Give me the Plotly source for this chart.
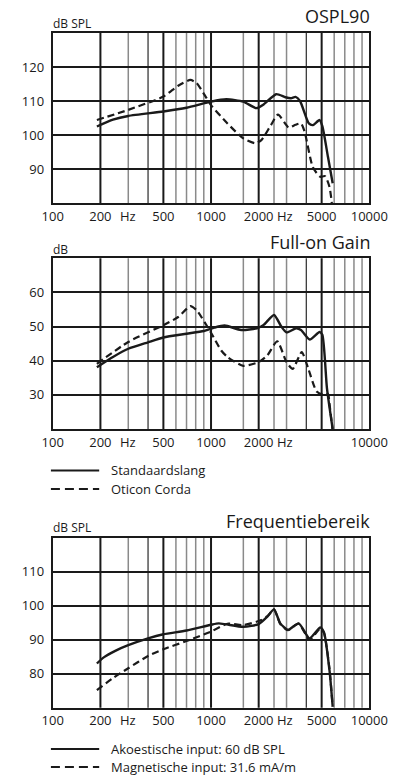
import math
import plotly.graph_objects as go

# ---------------- data ----------------
# OSPL90
f1_std = [190, 240, 300, 500, 700, 1000, 1250, 1600, 1930, 2150, 2580, 2950, 3200, 3420, 3650, 4150, 4400, 4850, 5050, 5480, 5870]
ospl_std = [102.5, 104.5, 105.6, 106.9, 108.0, 109.8, 110.5, 109.8, 107.9, 109.0, 112.0, 111.1, 110.8, 111.2, 110.0, 103.4, 102.9, 104.4, 102.6, 93.6, 85.8]
f1_cor = [190, 300, 500, 620, 740, 810, 910, 1000, 1270, 1600, 1900, 2080, 2390, 2650, 3100, 3420, 3700, 3900, 4400, 4900, 5250, 5600, 5800]
ospl_cor = [104.4, 107.4, 111.3, 114.5, 116.2, 115.3, 111.8, 108.8, 103.4, 99.0, 97.6, 98.5, 102.9, 106.0, 102.2, 103.0, 103.4, 101.0, 90.5, 87.7, 87.9, 84.8, 79.9]

# Full-on Gain
f2_std = [190, 240, 300, 400, 500, 700, 900, 1050, 1220, 1550, 1950, 2150, 2500, 2780, 3000, 3450, 3700, 4200, 4850, 5050, 5400, 5870]
gain_std = [38.1, 41.1, 43.5, 45.4, 46.8, 47.9, 48.7, 49.7, 50.3, 49.0, 49.5, 50.5, 53.4, 50.0, 48.3, 49.5, 49.0, 46.2, 48.4, 47.6, 32.0, 20.0]
f2_cor = [190, 300, 500, 620, 740, 810, 1000, 1160, 1270, 1600, 2000, 2270, 2620, 3000, 3280, 3740, 4120, 4650, 5170, 5480, 5600, 5850]
gain_cor = [39.1, 45.5, 50.4, 52.8, 56.0, 54.8, 48.2, 43.0, 41.1, 38.5, 39.6, 41.6, 45.7, 39.6, 37.6, 42.5, 37.6, 31.0, 30.0, 30.3, 27.5, 20.0]

# Frequentiebereik
f3_ac = [190, 210, 250, 300, 400, 500, 700, 1000, 1120, 1600, 2000, 2270, 2500, 2740, 3060, 3580, 4190, 4900, 5170, 5600, 5870]
freq_ac = [83.0, 84.8, 86.8, 88.4, 90.4, 91.6, 92.7, 94.4, 94.8, 93.8, 94.6, 96.8, 98.9, 94.8, 92.9, 94.8, 90.4, 93.6, 92.2, 81.1, 70.3]
f3_mag = [190, 240, 300, 400, 500, 700, 1000, 1270, 1600, 2080, 2300, 2500, 2740, 3060, 3580, 4190, 4900, 5170, 5600, 5870]
freq_mag = [75.2, 78.7, 81.6, 85.2, 87.2, 89.6, 92.4, 94.7, 94.3, 95.8, 97.2, 98.9, 94.6, 92.8, 94.7, 90.0, 93.3, 92.0, 81.5, 70.3]

# axes / ticks
x_tickvals_13 = [100, 200, 500, 1000, 2000, 5000, 10000]
x_ticktext_13 = ["100", "200", "500", "1000", "2000", "5000", "10000"]
x_tickvals_2 = [100, 200, 500, 1000, 2000, 10000]
x_ticktext_2 = ["100", "200", "500", "1000", "2000", "10000"]
y1_ticks = [90, 100, 110, 120]
y2_ticks = [30, 40, 50, 60]
y3_ticks = [80, 90, 100, 110]
y1_range = [80, 130]
y2_range = [20, 70]
y3_range = [70, 120]

grid_major = [200, 500, 1000, 2000, 5000]
grid_dark = [400, 4000]
grid_minor = [300, 600, 700, 800, 900, 1600, 2500, 3000, 6000, 7000, 8000, 9000]

titles = ["OSPL90", "Full-on Gain", "Frequentiebereik"]
units = ["dB SPL", "dB", "dB SPL"]
legend1 = ["Standaardslang", "Oticon Corda"]
legend2 = ["Akoestische input: 60 dB SPL", "Magnetische input: 31.6 mA/m"]

# ---------------- layout helpers ----------------
W, H = 418, 778
FONT = "Open Sans"
INK = "#1a1a1a"


def px(x):
    return x / W


def py(y):
    return 1 - y / H


x_dom = [px(45), px(386)]
y_doms = [[py(203), py(33)], [py(429), py(258.3)], [py(707.7), py(537.7)]]

fig = go.Figure()

series = [
    (f1_std, ospl_std, f1_cor, ospl_cor),
    (f2_std, gain_std, f2_cor, gain_cor),
    (f3_ac, freq_ac, f3_mag, freq_mag),
]
for i, (fa, ya, fb, yb) in enumerate(series):
    xa = "x" if i == 0 else f"x{i+1}"
    ya_ = "y" if i == 0 else f"y{i+1}"
    fig.add_trace(go.Scatter(x=fa, y=ya, mode="lines", xaxis=xa, yaxis=ya_,
                             line=dict(color=INK, width=2.4, shape="spline", smoothing=0.6),
                             showlegend=False, hoverinfo="skip"))
    fig.add_trace(go.Scatter(x=fb, y=yb, mode="lines", xaxis=xa, yaxis=ya_,
                             line=dict(color=INK, width=2.2, dash="7px,4px", shape="spline", smoothing=0.6),
                             showlegend=False, hoverinfo="skip"))

shapes = []
annotations = []
yranges = [y1_range, y2_range, y3_range]
yticks = [y1_ticks, y2_ticks, y3_ticks]
axis_bottom = [203, 429, 707.7]
for i in range(3):
    n = "" if i == 0 else str(i + 1)
    xt_v = x_tickvals_2 if i == 1 else x_tickvals_13
    xt_t = x_ticktext_2 if i == 1 else x_ticktext_13
    fig.update_layout(**{
        f"xaxis{n}": dict(domain=x_dom, type="log", range=[2, 4], anchor=f"y{n}",
                          tickvals=xt_v, ticktext=xt_t, showgrid=False, zeroline=False,
                          showline=True, mirror=True, linecolor=INK, linewidth=2,
                          ticks="", tickfont=dict(family=FONT, size=13, color=INK)),
        f"yaxis{n}": dict(domain=y_doms[i], range=yranges[i], anchor=f"x{n}",
                          tickvals=yticks[i], showgrid=True, gridcolor=INK, gridwidth=2,
                          zeroline=False, showline=True, mirror=True, linecolor=INK, linewidth=2,
                          ticks="", ticklabelstandoff=4,
                          tickfont=dict(family=FONT, size=13, color=INK)),
    })
    xr = "x" + n
    yr = "y" + n + " domain"
    for f in grid_minor:
        shapes.append(dict(type="line", xref=xr, yref=yr, x0=f, x1=f, y0=0, y1=1,
                           line=dict(color="#8a8a8a", width=1.5), layer="below"))
    for f in grid_dark:
        shapes.append(dict(type="line", xref=xr, yref=yr, x0=f, x1=f, y0=0, y1=1,
                           line=dict(color="#3a3a3a", width=1.3), layer="below"))
    for f in grid_major:
        shapes.append(dict(type="line", xref=xr, yref=yr, x0=f, x1=f, y0=0, y1=1,
                           line=dict(color=INK, width=2), layer="below"))
    # titles & units
    annotations.append(dict(text=titles[i], xref="paper", yref="paper", x=px(389),
                            y=py([16, 242, 521][i]), xanchor="right", yanchor="middle",
                            showarrow=False, font=dict(family=FONT, size=18, color=INK)))
    annotations.append(dict(text=units[i], xref="paper", yref="paper", x=px(43),
                            y=py([24, 249, 527][i]), xanchor="left", yanchor="middle",
                            showarrow=False, font=dict(family=FONT, size=12, color=INK)))
    # "Hz" unit labels on the frequency axis, aligned with the tick labels
    for hx in (126, 295):
        annotations.append(dict(text="Hz", xref="paper", yref="paper", x=px(hx),
                                y=py(axis_bottom[i] + 12.5), xanchor="center", yanchor="middle",
                                showarrow=False, font=dict(family=FONT, size=13, color=INK)))

# legends
for labels, ys in ((legend1, (470.5, 489)), (legend2, (749, 767))):
    for k, (lab, yy) in enumerate(zip(labels, ys)):
        shapes.append(dict(type="line", xref="paper", yref="paper", x0=px(43), x1=px(95),
                           y0=py(yy), y1=py(yy),
                           line=dict(color=INK, width=2.2, dash="solid" if k == 0 else "9px,5px")))
        annotations.append(dict(text=lab, xref="paper", yref="paper", x=px(106), y=py(yy),
                                xanchor="left", yanchor="middle", showarrow=False,
                                font=dict(family=FONT, size=13, color=INK)))

fig.update_layout(width=W, height=H, margin=dict(l=0, r=0, t=0, b=0),
                  paper_bgcolor="white", plot_bgcolor="white",
                  shapes=shapes, annotations=annotations, showlegend=False)

fig.write_html("out.html")
